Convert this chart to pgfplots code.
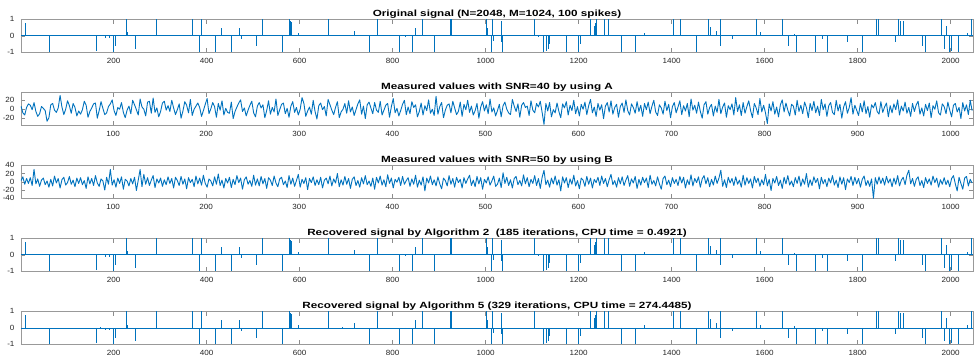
\documentclass[border=0pt]{standalone}
\usepackage{pgfplots}
\pgfplotsset{compat=1.18}
\usepackage{pgfplotstable}
\usepackage{fontspec}
\setmainfont{Liberation Sans}
\newfontfamily\titlefont[FakeStretch=1.3]{Liberation Sans}
\newfontfamily\tickfont[FakeStretch=1.08]{Liberation Sans}
\definecolor{mblue}{rgb}{0,0.447,0.741}

\pgfplotstableread{
n v
11 0.75
61 -1
163 -0.9
172 0.05
182 -0.15
191 -0.15
200 -1
203 -0.6
227 1
229 0.2
247 -0.8
293 1
369 1
384 -1
388 1
419 -1
431 0.5
453 -1
470 0.5
474 -0.2
506 -0.6
519 1
562 -1
579 1
581 0.9
583 0.85
597 0.15
661 1
692 0.05
718 0.3
750 -1
768 1
815 -1
828 -0.05
842 -1
848 0.45
863 1
889 -1
925 1
927 1
1001 1
1004 0.5
1013 -1
1015 1
1017 -0.3
1033 0.9
1034 -0.4
1035 -1
1104 1
1114 -0.1
1124 -1
1130 -0.9
1134 -0.8
1138 -0.5
1174 -1
1200 -1
1203 -0.5
1226 1
1234 0.6
1236 0.8
1239 1
1256 1
1264 1
1292 -1
1321 -1
1341 0.15
1403 1
1419 1
1452 -1
1478 1
1484 0.55
1495 0.3
1504 1
1505 -0.6
1530 -0.2
1583 1
1590 0.2
1638 1
1651 -0.6
1664 0.1
1668 -1
1708 -1
1723 -0.2
1735 -1
1777 -0.4
1811 -1
1840 1
1844 1
1880 -0.4
1887 1
1891 0.9
1898 0.9
1939 -0.6
1946 -1
1979 1
1987 -0.8
1991 0.6
1998 -1
2001 -0.9
2017 -1
2036 0.15
2045 1
}\spikes

\pgfplotstableread[row sep=\\]{
y\\
6\\ -9\\ -14\\ 3\\ 11\\ 8\\ -2\\ 14\\ -6\\ -17\\ -11\\ 5\\ 1\\ -4\\ -28\\ -20\\
9\\ 12\\ -3\\ -8\\ 2\\ 30\\ 4\\ -13\\ -1\\ 18\\ 7\\ -10\\ 12\\ 3\\ -16\\ -5\\
-12\\ -2\\ 17\\ 8\\ -19\\ -6\\ 2\\ 11\\ 13\\ -21\\ -4\\ 16\\ 1\\ -13\\ -9\\ 5\\
11\\ 20\\ -4\\ -15\\ 3\\ -1\\ 14\\ -8\\ -20\\ -3\\ 6\\ -11\\ 19\\ 9\\ -2\\ -14\\
22\\ 4\\ -1\\ -16\\ 15\\ 17\\ -10\\ 24\\ -8\\ 2\\ -18\\ -6\\ 13\\ 17\\ -3\\ 7\\
-6\\ 19\\ 2\\ -13\\ -2\\ 11\\ -21\\ -5\\ 16\\ 8\\ -9\\ 21\\ -15\\ -1\\ 6\\ 13\\
3\\ -17\\ -4\\ 10\\ 23\\ -11\\ 0\\ 14\\ 5\\ -19\\ 12\\ -3\\ 18\\ -14\\ 1\\ -8\\
-10\\ 15\\ -22\\ -6\\ 4\\ 13\\ 20\\ -6\\ 2\\ -16\\ -3\\ 8\\ 17\\ -9\\ -18\\ 6\\
14\\ 2\\ 9\\ -20\\ -4\\ 18\\ -12\\ 3\\ -7\\ 22\\ -15\\ -2\\ 10\\ 13\\ -11\\ 1\\
-19\\ 6\\ 16\\ -8\\ 3\\ -14\\ -1\\ 25\\ 12\\ -17\\ -5\\ 4\\ -12\\ 19\\ -6\\ -23\\
7\\ 13\\ -2\\ 5\\ -16\\ 21\\ 9\\ -3\\ -13\\ 3\\ 16\\ -20\\ -7\\ -1\\ 12\\ -10\\
18\\ -7\\ 4\\ -15\\ -2\\ 11\\ 20\\ -12\\ 6\\ -22\\ 9\\ 15\\ 2\\ -11\\ 14\\ -3\\
-8\\ 17\\ -14\\ -3\\ 8\\ 12\\ -19\\ 5\\ 23\\ -9\\ 1\\ -16\\ -4\\ 10\\ 19\\ -13\\
4\\ -11\\ 16\\ 3\\ 9\\ -18\\ -6\\ 13\\ -14\\ 7\\ -4\\ 20\\ -10\\ -1\\ -15\\ 28\\
-12\\ 5\\ 14\\ -20\\ -3\\ 8\\ 11\\ -9\\ 17\\ 2\\ -13\\ -6\\ 15\\ -17\\ 10\\ -2\\
19\\ -8\\ 6\\ -14\\ -4\\ 12\\ -21\\ 4\\ 16\\ -5\\ 9\\ -11\\ 22\\ -7\\ 2\\ -16\\
-4\\ 10\\ -18\\ 7\\ 15\\ -1\\ -9\\ -13\\ 21\\ 6\\ -6\\ 11\\ -19\\ 8\\ 14\\ 3\\
6\\ -15\\ 18\\ -3\\ -9\\ 12\\ 4\\ 17\\ -8\\ -35\\ 12\\ -5\\ 14\\ -18\\ -2\\ -9\\
13\\ -6\\ -20\\ 11\\ 2\\ 16\\ -14\\ 8\\ -4\\ 19\\ -11\\ 5\\ -16\\ 10\\ -1\\ 15\\
-13\\ 7\\ 21\\ -9\\ 4\\ -17\\ 12\\ -3\\ 9\\ -22\\ 6\\ 14\\ -7\\ 18\\ -12\\ 3\\
10\\ -19\\ 5\\ 13\\ -8\\ 20\\ -4\\ -14\\ 11\\ 3\\ -10\\ 16\\ -6\\ 8\\ -17\\ 12\\
-2\\ 15\\ -11\\ 6\\ 19\\ -7\\ -15\\ 9\\ 2\\ -12\\ 17\\ -4\\ 10\\ -20\\ 5\\ 14\\
-9\\ 4\\ 18\\ -13\\ 7\\ -5\\ 12\\ -18\\ 22\\ -3\\ 8\\ -10\\ 15\\ -6\\ -21\\ 9\\
16\\ -12\\ 3\\ 10\\ -16\\ 6\\ -8\\ 21\\ -11\\ 4\\ 13\\ -19\\ 7\\ -2\\ 11\\ -14\\
25\\ -6\\ 9\\ -15\\ 14\\ -10\\ 5\\ 18\\ -4\\ -20\\ 12\\ 2\\ -13\\ 23\\ -7\\ 8\\
-9\\ -33\\ 11\\ -5\\ 16\\ -12\\ 4\\ -18\\ 9\\ 20\\ -7\\ 13\\ -3\\ -16\\ 10\\ 6\\
-14\\ 19\\ -6\\ 8\\ -11\\ 15\\ 3\\ -20\\ 12\\ -4\\ 17\\ -9\\ 6\\ -15\\ 21\\ -2\\
11\\ -17\\ 7\\ 14\\ -8\\ -13\\ 19\\ -5\\ 10\\ -21\\ 4\\ 16\\ -10\\ 3\\ 25\\ -12\\
8\\ -3\\ -15\\ 12\\ -7\\ 18\\ -11\\ 5\\ -19\\ 9\\ 2\\ 14\\ -6\\ -12\\ 16\\ -8\\
4\\ 13\\ -18\\ 7\\ -9\\ 11\\ -2\\ 20\\ -14\\ 6\\ -5\\ 15\\ -10\\ 3\\ -17\\ 12\\
-6\\ 9\\ 17\\ -12\\ 2\\ -16\\ 10\\ -4\\ 13\\ -20\\ 7\\ -1\\ 18\\ -9\\ -14\\ 11\\
5\\ -11\\ 15\\ -3\\ -18\\ 8\\ 12\\ -7\\ 3\\ -22\\ 14\\ -5\\ 9\\ -13\\ 19\\ -4\\
}\noiseA

\pgfplotstableread[row sep=\\]{
y\\
3\\ 12\\ -6\\ 8\\ -4\\ 10\\ -9\\ 30\\ -5\\ 7\\ -11\\ 4\\ 9\\ -7\\ 2\\ -13\\
6\\ -10\\ 14\\ -3\\ 8\\ -15\\ 5\\ 11\\ -8\\ -2\\ 13\\ -6\\ 4\\ -12\\ 9\\ -4\\
10\\ -7\\ 3\\ -16\\ 12\\ -5\\ 8\\ -9\\ 15\\ -3\\ -11\\ 7\\ 2\\ -20\\ 11\\ -6\\
30\\ -8\\ 5\\ -13\\ 9\\ -4\\ 12\\ -18\\ 6\\ 2\\ -10\\ 8\\ -5\\ 11\\ -21\\ 4\\
30\\ -12\\ 18\\ -6\\ 10\\ -9\\ 4\\ 15\\ -14\\ 7\\ -3\\ 9\\ -11\\ 5\\ -7\\ 12\\
-4\\ 8\\ -15\\ 11\\ 3\\ -9\\ 13\\ -6\\ 7\\ -17\\ 10\\ -2\\ 6\\ -12\\ 14\\ -5\\
9\\ -8\\ 16\\ -4\\ -13\\ 7\\ 2\\ -10\\ 12\\ -6\\ 19\\ -9\\ 4\\ -15\\ 8\\ -3\\
11\\ -14\\ 6\\ -7\\ 15\\ -2\\ 9\\ -18\\ 5\\ 12\\ -6\\ 3\\ -11\\ 16\\ -8\\ 7\\
-10\\ 13\\ -5\\ 8\\ -16\\ 10\\ 4\\ -9\\ 14\\ -3\\ -12\\ 7\\ 11\\ -7\\ 2\\ -14\\
15\\ -6\\ 9\\ -11\\ 3\\ 18\\ -13\\ 6\\ -4\\ 10\\ -19\\ 8\\ -2\\ 12\\ -9\\ 5\\
-7\\ 11\\ -15\\ 4\\ 9\\ -5\\ 14\\ -10\\ 7\\ -3\\ 20\\ -12\\ 5\\ -8\\ 13\\ -6\\
8\\ -16\\ 6\\ 12\\ -9\\ 3\\ -13\\ 10\\ -5\\ 15\\ -7\\ 2\\ -11\\ 9\\ -18\\ 11\\
-3\\ 14\\ -8\\ 5\\ -12\\ 17\\ -4\\ 9\\ -15\\ 6\\ -1\\ 11\\ -9\\ 13\\ -6\\ 3\\
10\\ -11\\ 7\\ -6\\ 16\\ -13\\ 4\\ -8\\ 12\\ -22\\ 9\\ -3\\ 14\\ -7\\ 5\\ -10\\
12\\ -5\\ -17\\ 9\\ 3\\ -10\\ 15\\ -6\\ 8\\ -13\\ 11\\ -2\\ 6\\ -15\\ 10\\ -4\\
7\\ 16\\ -9\\ 4\\ -12\\ 13\\ -5\\ 10\\ -18\\ 6\\ -3\\ 12\\ -8\\ 2\\ 14\\ -11\\
-6\\ 9\\ -14\\ 22\\ -4\\ 11\\ -9\\ 5\\ -15\\ 8\\ 13\\ -7\\ 3\\ -10\\ 17\\ -5\\
10\\ -12\\ 6\\ -4\\ 15\\ -9\\ 8\\ -16\\ 11\\ 28\\ -7\\ 4\\ -13\\ 9\\ -5\\ 14\\
-8\\ 5\\ -22\\ 12\\ -3\\ 10\\ -14\\ 7\\ -6\\ 16\\ -10\\ 3\\ -17\\ 9\\ 4\\ -11\\
13\\ -6\\ 9\\ -15\\ 6\\ -2\\ 11\\ -9\\ 14\\ -4\\ 8\\ -12\\ 5\\ 18\\ -7\\ 3\\
-13\\ 10\\ -5\\ 12\\ -9\\ 4\\ 15\\ -11\\ 7\\ -3\\ 13\\ -16\\ 6\\ -8\\ 11\\ -2\\
9\\ -14\\ 16\\ -6\\ 3\\ -10\\ 12\\ -5\\ -18\\ 8\\ 14\\ -7\\ 4\\ -12\\ 10\\ -4\\
6\\ -9\\ 13\\ -3\\ 11\\ -15\\ 5\\ -7\\ 17\\ -10\\ 8\\ -2\\ 12\\ -13\\ 7\\ 15\\
-5\\ 10\\ -12\\ 6\\ -8\\ 14\\ -4\\ 9\\ 28\\ -11\\ 5\\ -14\\ 11\\ -3\\ 8\\ -9\\
12\\ -6\\ 4\\ -13\\ 16\\ -8\\ 10\\ -4\\ 7\\ -15\\ 13\\ -2\\ 9\\ -11\\ 5\\ -7\\
18\\ -10\\ 6\\ -21\\ 8\\ -3\\ 13\\ -9\\ 4\\ -16\\ 11\\ -5\\ 15\\ -8\\ 2\\ -12\\
10\\ -4\\ 14\\ -11\\ 7\\ -6\\ 20\\ -13\\ 5\\ -9\\ 12\\ -2\\ 8\\ -17\\ 11\\ -5\\
6\\ -12\\ 9\\ -3\\ 15\\ -8\\ 4\\ -14\\ 12\\ -6\\ 10\\ -19\\ 7\\ -2\\ 13\\ -9\\
11\\ -5\\ 8\\ -13\\ 6\\ 14\\ -9\\ 3\\ -11\\ 7\\ -40\\ 10\\ -6\\ 12\\ -4\\ 9\\
-8\\ 13\\ -3\\ 7\\ -12\\ 9\\ -6\\ 15\\ -10\\ 4\\ 11\\ -7\\ 16\\ 28\\ -5\\ 8\\
-11\\ 6\\ 12\\ -9\\ 3\\ -14\\ 10\\ -4\\ 7\\ -8\\ 14\\ -2\\ 9\\ -13\\ 5\\ -6\\
10\\ -7\\ 4\\ -12\\ 8\\ 15\\ -5\\ -22\\ 11\\ -4\\ -18\\ 9\\ 13\\ -10\\ 6\\ -3\\
}\noiseB

\pgfplotsset{
  panel/.style={
    scale only axis, width=952pt, height=33pt, enlargelimits=false,
    anchor=north west,
    axis line style={black!40, line width=0.5pt},
    tick style={black!45, line width=0.4pt},
    major tick length=4.5pt, tick align=inside,
    ticklabel style={font=\tickfont\fontsize{7.5}{8}\selectfont, text=black!85},
    /pgf/number format/assume math mode=true,
    /pgf/number format/1000 sep={},
    xticklabel style={yshift=-2pt},
    yticklabel style={xshift=-3pt},
    every axis title/.style={at={(0.5,1)}, anchor=base, inner sep=0pt,
      yshift=3pt, font=\titlefont\bfseries\fontsize{9}{10}\selectfont},
  },
  spk/.style={panel, xmin=1, xmax=2048, ymin=-1, ymax=1,
    xtick={200,400,...,2000}, ytick={-1,0,1}},
  nse/.style={panel, xmin=1, xmax=1024, xtick={100,200,...,1000}},
}

\begin{document}
\begin{tikzpicture}
\useasboundingbox (0,0) rectangle (974pt,-355pt);

\begin{axis}[spk, at={(21pt,-19.3pt)},
  title={Original signal (N=2048, M=1024, 100 spikes)}]
\addplot[mblue, line width=0.6pt] coordinates {(1,0) (2048,0)};
\addplot[ycomb, mblue, line width=0.65pt, no marks] table[x=n, y=v]{\spikes};
\end{axis}

\begin{axis}[nse, at={(21pt,-92.3pt)}, ymin=-37, ymax=37, ytick={-20,0,20},
  title={Measured values with SNR=40 by using A}]
\addplot[sharp plot, mblue, line width=0.9pt, line join=round, no marks] table[x expr=\coordindex*2+1, y=y]{\noiseA};
\end{axis}

\begin{axis}[nse, at={(21pt,-165.3pt)}, ymin=-40, ymax=40, ytick={-40,-20,0,20,40},
  title={Measured values with SNR=50 by using B}]
\addplot[sharp plot, mblue, line width=0.9pt, line join=round, no marks] table[x expr=\coordindex*2+1, y=y]{\noiseB};
\end{axis}

\begin{axis}[spk, at={(21pt,-238.3pt)},
  title={Recovered signal by Algorithm 2\ \ (185 iterations, CPU time = 0.4921)}]
\addplot[mblue, line width=0.6pt] coordinates {(1,0) (2048,0)};
\addplot[ycomb, mblue, line width=0.65pt, no marks] table[x=n, y=v]{\spikes};
\end{axis}

\begin{axis}[spk, at={(21pt,-311.3pt)},
  title={Recovered signal by Algorithm 5 (329 iterations, CPU time = 274.4485)}]
\addplot[mblue, line width=0.6pt] coordinates {(1,0) (2048,0)};
\addplot[ycomb, mblue, line width=0.65pt, no marks] table[x=n, y=v]{\spikes};
\end{axis}
\end{tikzpicture}
\end{document}
